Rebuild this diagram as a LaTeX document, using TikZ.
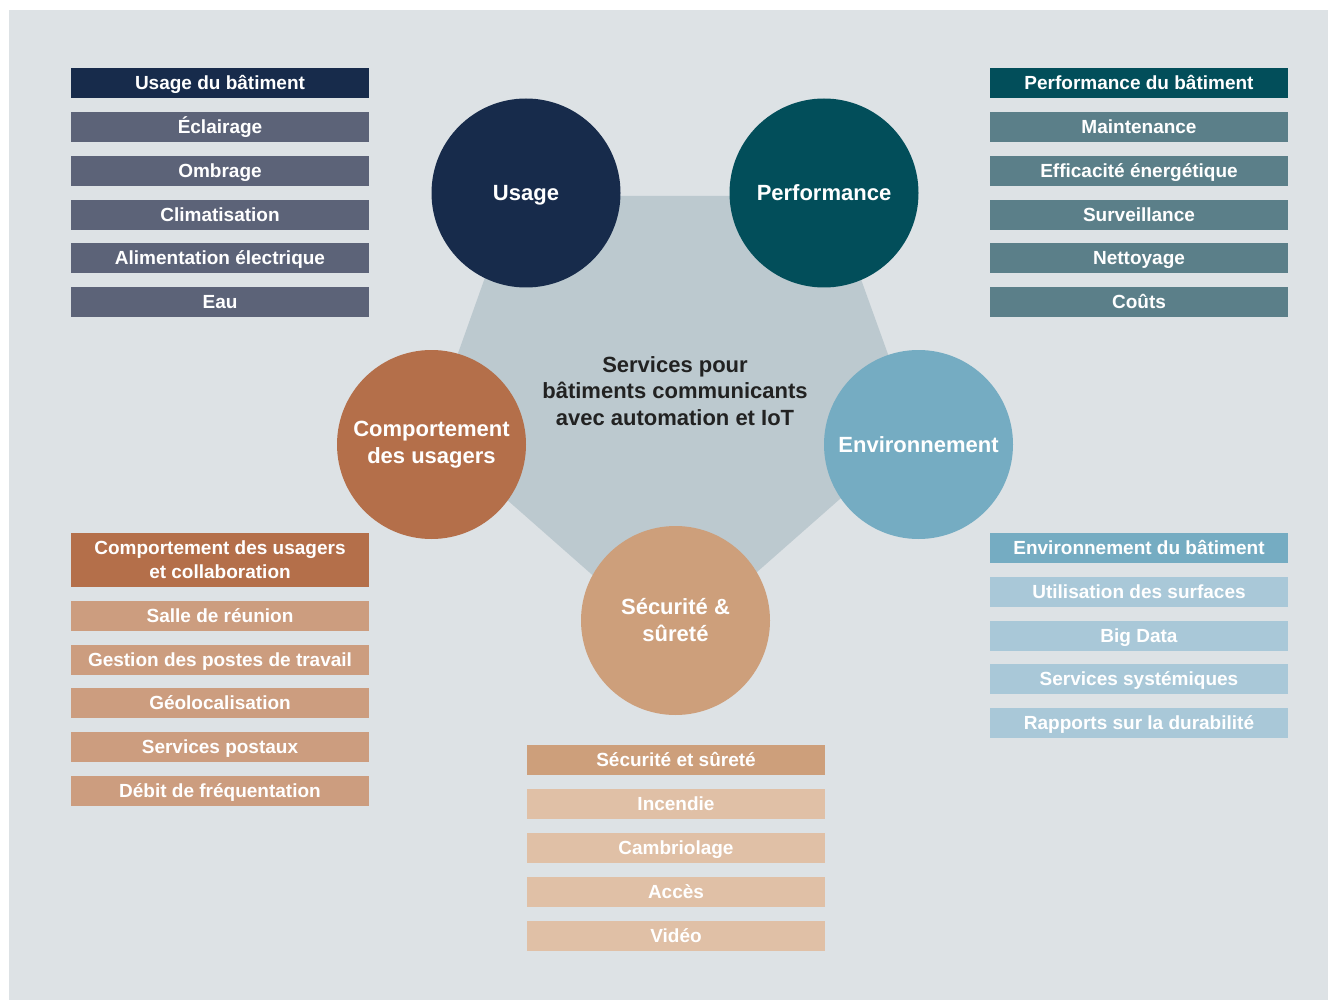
\documentclass[tikz,border=0pt]{standalone}
\usepackage{fontspec}
\setmainfont{Liberation Sans}
\definecolor{bgc}{HTML}{DDE2E5}
\definecolor{pentc}{HTML}{BCC9CF}
\definecolor{navy}{HTML}{172B4B}
\definecolor{navysub}{HTML}{5C6378}
\definecolor{teal}{HTML}{024E5A}
\definecolor{tealsub}{HTML}{5B7F89}
\definecolor{rust}{HTML}{B46F4A}
\definecolor{rustsub}{HTML}{CC9D7F}
\definecolor{skyb}{HTML}{75ACC2}
\definecolor{skybsub}{HTML}{A9C8D8}
\definecolor{tan}{HTML}{CD9F7B}
\definecolor{tansub}{HTML}{E0C0A6}
\definecolor{darktext}{HTML}{222222}
\begin{document}
\begin{tikzpicture}[x=1pt,y=-1pt,
  boxbase/.style={minimum width=298pt, minimum height=30pt, inner sep=0pt, text=white,
    font=\fontsize{19}{24}\selectfont\bfseries, align=center},
  box/.style={boxbase, text height=13.6pt, text depth=0pt},
  bubblebase/.style={circle, minimum size=189pt, inner sep=0pt, text=white,
    font=\fontsize{22}{27}\selectfont\bfseries, align=center},
  bubble/.style={bubblebase, text height=15.75pt, text depth=0pt},
]
\useasboundingbox (0,0) rectangle (1328,1000);
\fill[white] (0,0) rectangle (1328,1000);
\fill[bgc] (9,10) rectangle (1328,1000);
% pentagon
\fill[pentc] (514,196) -- (831,196) -- (916,432) -- (673,646) -- (430,432) -- cycle;
% circles
\node[bubble, fill=navy] (cusage) at (526,193) {Usage};
\node[bubble, fill=teal] (cperf) at (824,193) {Performance};
\node[bubblebase, fill=rust] (ccomp) at (431.5,444.5) {Comportement\\des usagers};
\node[bubble, fill=skyb] (cenv) at (918.5,444.5) {Environnement};
\node[bubblebase, fill=tan] (csec) at (675.5,620.5) {Sécurité \&\\sûreté};
% centre text
\node[font=\fontsize{22}{26.5}\selectfont\bfseries, text=darktext, align=center,
  inner sep=0pt] (centre) at (675,391)
  {Services pour\\bâtiments communicants\\avec automation et IoT};
% left top column
\node[box, fill=navy] (u0) at (220,83) {Usage du bâtiment};
\node[box, fill=navysub] (u1) at (220,127) {Éclairage};
\node[box, fill=navysub] (u2) at (220,171) {Ombrage};
\node[box, fill=navysub] (u3) at (220,215) {Climatisation};
\node[box, fill=navysub] (u4) at (220,258) {Alimentation électrique};
\node[box, fill=navysub] (u5) at (220,302) {Eau};
% right top column
\node[box, fill=teal] (p0) at (1139,83) {Performance du bâtiment};
\node[box, fill=tealsub] (p1) at (1139,127) {Maintenance};
\node[box, fill=tealsub] (p2) at (1139,171) {Efficacité énergétique};
\node[box, fill=tealsub] (p3) at (1139,215) {Surveillance};
\node[box, fill=tealsub] (p4) at (1139,258) {Nettoyage};
\node[box, fill=tealsub] (p5) at (1139,302) {Coûts};
% left bottom column
\node[boxbase, fill=rust, minimum height=54pt] (b0) at (220,560) {Comportement des usagers\\et collaboration};
\node[box, fill=rustsub] (b1) at (220,616) {Salle de réunion};
\node[box, fill=rustsub] (b2) at (220,660) {Gestion des postes de travail};
\node[box, fill=rustsub] (b3) at (220,703) {Géolocalisation};
\node[box, fill=rustsub] (b4) at (220,747) {Services postaux};
\node[box, fill=rustsub] (b5) at (220,791) {Débit de fréquentation};
% right bottom column
\node[box, fill=skyb] (e0) at (1139,548) {Environnement du bâtiment};
\node[box, fill=skybsub] (e1) at (1139,592) {Utilisation des surfaces};
\node[box, fill=skybsub] (e2) at (1139,636) {Big Data};
\node[box, fill=skybsub] (e3) at (1139,679) {Services systémiques};
\node[box, fill=skybsub] (e4) at (1139,723) {Rapports sur la durabilité};
% bottom centre column
\node[box, fill=tan] (s0) at (676,760) {Sécurité et sûreté};
\node[box, fill=tansub] (s1) at (676,804) {Incendie};
\node[box, fill=tansub] (s2) at (676,848) {Cambriolage};
\node[box, fill=tansub] (s3) at (676,892) {Accès};
\node[box, fill=tansub] (s4) at (676,936) {Vidéo};
\end{tikzpicture}
\end{document}
